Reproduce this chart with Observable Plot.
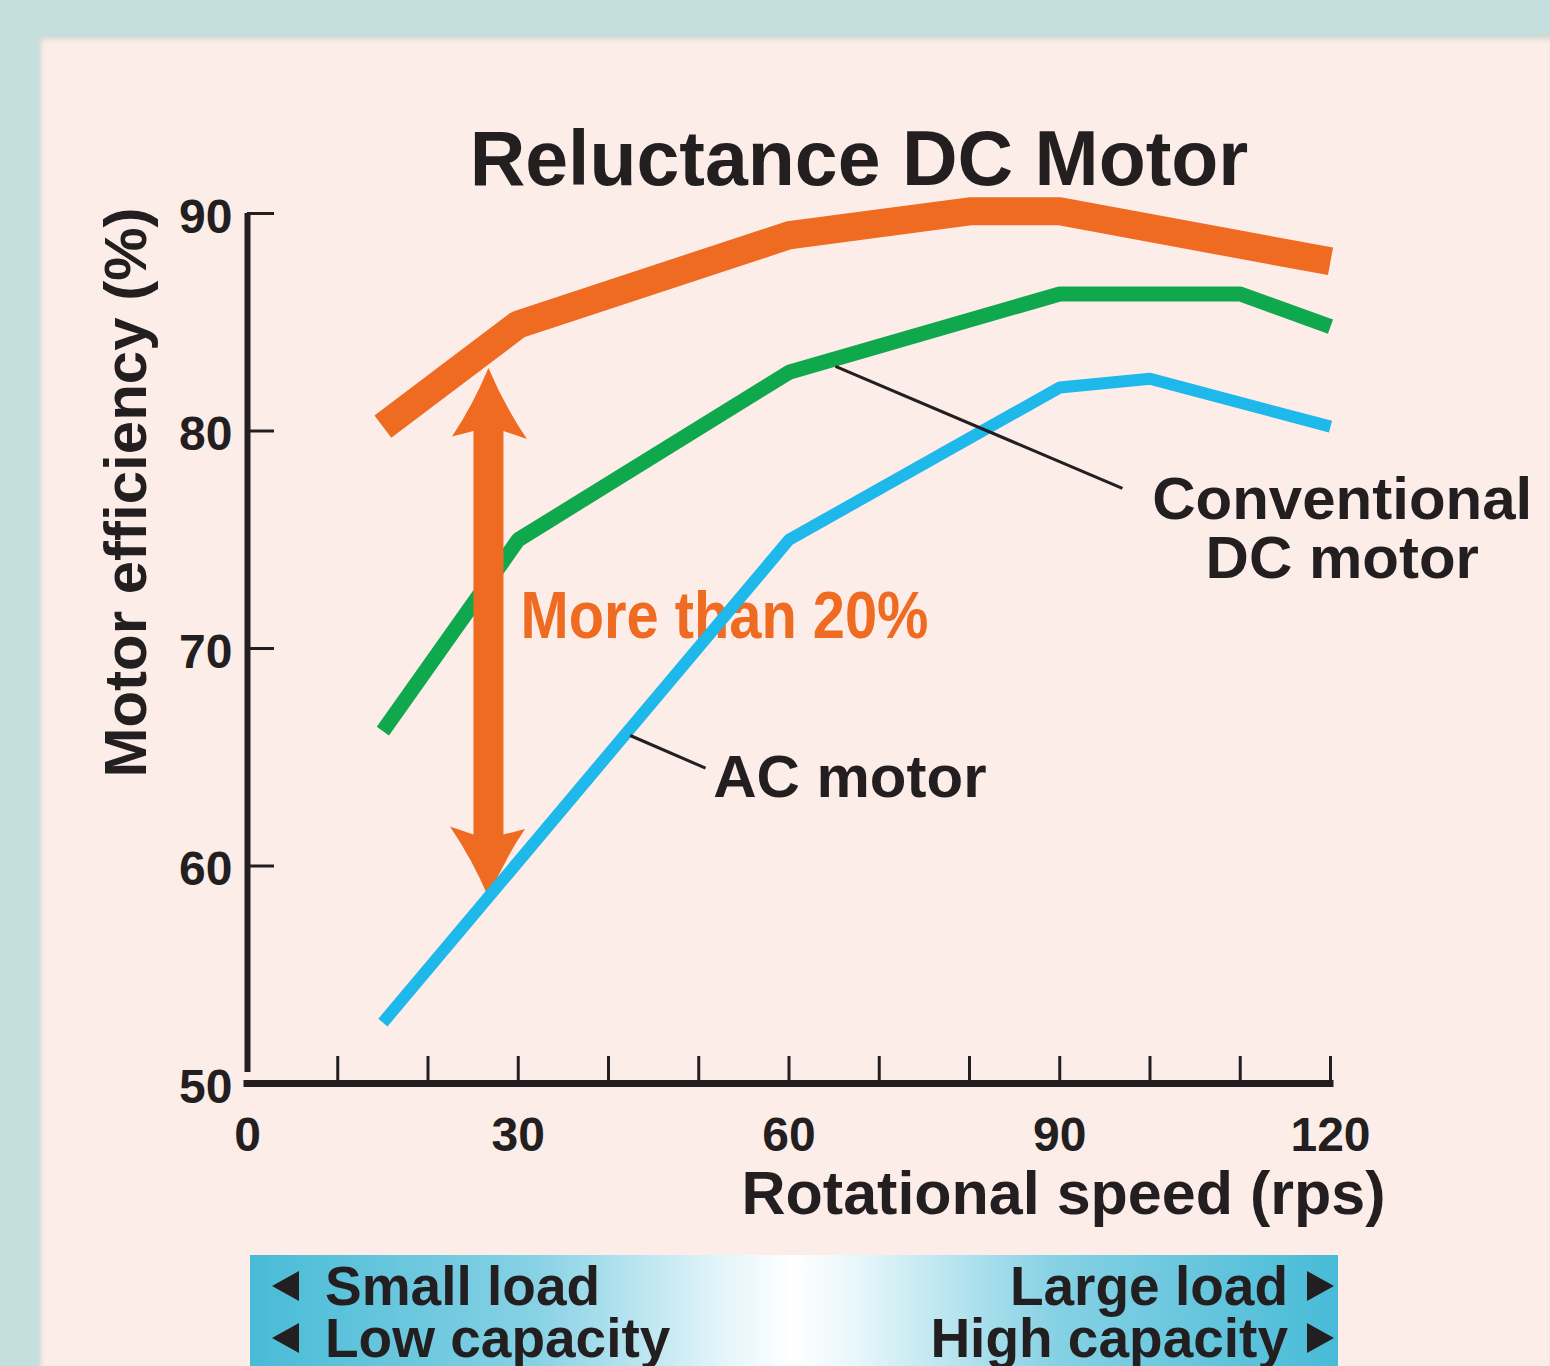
<!DOCTYPE html>
<html>
<head>
<meta charset="utf-8">
<script src="https://cdn.jsdelivr.net/npm/d3@7"></script>
<script src="https://cdn.jsdelivr.net/npm/@observablehq/plot@0.6"></script>
<style>
  html, body { margin: 0; padding: 0; }
  body {
    width: 1550px; height: 1366px; overflow: hidden; position: relative;
    background: #c4dfde;
    font-family: "Liberation Sans", Arial, Helvetica, sans-serif;
    color: #231f20;
  }
  #panel {
    position: absolute; left: 38px; top: 35px; right: 0; bottom: 0;
    background: #fcede9;
    box-shadow: inset 3px 4px 5px rgba(150, 190, 185, 0.45);
  }
  #title {
    position: absolute; left: 0; width: 1718px; top: 120px;
    text-align: center; font-size: 77px; line-height: 77px; font-weight: bold;
    white-space: nowrap;
  }
  #chart { position: absolute; left: 0; top: 190px; }
  #band {
    position: absolute; left: 250px; top: 1255px; width: 1088px; height: 130px;
    background: linear-gradient(to right, #48bbd7 0%, #86d1e4 26%, #e6f6fa 44%, #ffffff 50%, #e6f6fa 56%, #86d1e4 74%, #48bbd7 100%);
  }
  .bt { position: absolute; font-size: 55px; line-height: 50px; font-weight: bold; white-space: nowrap; }
  .tri { position: absolute; width: 0; height: 0; border-top: 15px solid transparent; border-bottom: 15px solid transparent; }
  .tl { border-right: 27px solid #231f20; }
  .tr { border-left: 27px solid #231f20; }
</style>
</head>
<body>
<div id="panel"></div>
<div id="title"></div>
<div id="chart"></div>
<div id="band">
  <div class="tri tl" style="left:22px; top:16px;"></div>
  <div class="bt" id="smallLoad" style="left:75px; top:6px;"></div>
  <div class="tri tl" style="left:22px; top:68px;"></div>
  <div class="bt" id="lowCap" style="left:75px; top:58px;"></div>
  <div class="bt" id="largeLoad" style="right:50px; top:6px;"></div>
  <div class="tri tr" style="left:1057px; top:16px;"></div>
  <div class="bt" id="highCap" style="right:50px; top:58px;"></div>
  <div class="tri tr" style="left:1057px; top:68px;"></div>
</div>
<script>
// ---------- data ----------
const speedReluctance = [15, 30, 60, 80, 90, 120];
const effReluctance   = [80.2, 84.9, 89.0, 90.1, 90.1, 87.8];

const speedConventional = [15, 30, 60, 90, 110, 120];
const effConventional   = [66.2, 75.0, 82.7, 86.3, 86.3, 84.8];

const speedAC = [15, 60, 90, 100, 120];
const effAC   = [52.8, 75.0, 82.0, 82.4, 80.2];

const yTickLabels = [50, 60, 70, 80, 90];
const xTickLabels = [0, 30, 60, 90, 120];
const xMinorTicks = [10, 20, 30, 40, 50, 60, 70, 80, 90, 100, 110, 120];

const gapSpeed = 26.7;          // where the "more than 20%" arrow stands
const gapTop = 82.9;            // reluctance side
const gapBottom = 58.55;        // AC side

const titleText = "Reluctance DC Motor";
const xLabel = "Rotational speed (rps)";
const yLabel = "Motor efficiency (%)";
const gapLabel = "More than 20%";
const acLabel = "AC motor";
const convLabel = "Conventional\nDC motor";
const bandLeft = ["Small load", "Low capacity"];
const bandRight = ["Large load", "High capacity"];

// ---------- styles ----------
const ORANGE = "#ef6b22";
const GREEN = "#10a84c";
const BLUE = "#1fb8eb";
const INK = "#231f20";
const FONT = "'Liberation Sans', Arial, Helvetica, sans-serif";

document.getElementById("title").textContent = titleText;
document.getElementById("smallLoad").textContent = bandLeft[0];
document.getElementById("lowCap").textContent = bandLeft[1];
document.getElementById("largeLoad").textContent = bandRight[0];
document.getElementById("highCap").textContent = bandRight[1];

const toRows = (xs, ys) => xs.map((x, i) => ({speed: x, eff: ys[i]}));
const reluctance = toRows(speedReluctance, effReluctance);
const conventional = toRows(speedConventional, effConventional);
const ac = toRows(speedAC, effAC);

// swept-back arrowhead, tip at origin, body extending downward
const arrowHead = {
  draw(ctx, size) {
    const s = Math.sqrt(size / Math.PI) / 40;
    ctx.moveTo(0, 0);
    ctx.quadraticCurveTo(16 * s, 38 * s, 38.5 * s, 71 * s);
    ctx.lineTo(15 * s, 63 * s);
    ctx.lineTo(-15 * s, 63 * s);
    ctx.lineTo(-36.5 * s, 68.5 * s);
    ctx.quadraticCurveTo(-16 * s, 38 * s, 0, 0);
    ctx.closePath();
  }
};

const W = 1550, H = 1050;
const mL = 247, mR = 220, mT = 23, mB = 157;
const frameW = W - mL - mR, frameH = H - mT - mB;

const chart = Plot.plot({
  width: W, height: H,
  marginLeft: mL, marginRight: mR, marginTop: mT, marginBottom: mB,
  x: {domain: [0, 120]},
  y: {domain: [50, 90]},
  style: {background: "transparent", overflow: "visible", fontFamily: FONT, color: INK},
  marks: [
    // tick labels
    Plot.axisY({ticks: yTickLabels, tickSize: 0, tickPadding: 15, fontSize: 48, fontWeight: "bold", fill: INK, dy: 4, label: null}),
    Plot.axisX({ticks: xTickLabels, tickSize: 0, tickPadding: 33, fontSize: 48, fontWeight: "bold", fill: INK, label: null}),
    // inward tick marks
    Plot.tickY(yTickLabels.filter(d => d > 50), {y: d => d, stroke: INK, strokeWidth: 3, insetRight: frameW - 27}),
    Plot.tickX(xMinorTicks, {x: d => d, stroke: INK, strokeWidth: 3, insetTop: frameH - 27}),
    // axis lines
    Plot.ruleX([0], {y1: 50, y2: 90, insetTop: -11, stroke: INK, strokeWidth: 6}),
    Plot.ruleY([50], {x1: 0, x2: 120, stroke: INK, strokeWidth: 7, strokeLinecap: "square"}),
    // axis titles
    Plot.text([xLabel], {text: d => d, frameAnchor: "bottom-right", dx: 55, dy: 130, textAnchor: "end", lineAnchor: "bottom", fontSize: 61, fontWeight: "bold", fill: INK}),
    Plot.text([yLabel], {text: d => d, frameAnchor: "left", rotate: -90, dx: -121, dy: -156, textAnchor: "middle", lineAnchor: "middle", fontSize: 60, fontWeight: "bold", fill: INK}),
    // gap label (under the lines)
    Plot.text([gapLabel], {text: d => d, x: 30.25, y: 70.5, textAnchor: "start", lineAnchor: "bottom", fontSize: 66, fontWeight: "bold", fill: ORANGE}),
    // series
    Plot.line(conventional, {x: "speed", y: "eff", stroke: GREEN, strokeWidth: 15, strokeLinecap: "butt", strokeLinejoin: "miter"}),
    // double arrow
    Plot.ruleX([gapSpeed], {y1: gapTop, y2: gapBottom, stroke: ORANGE, strokeWidth: 30, insetTop: 50, insetBottom: 50}),
    Plot.dot([{s: gapSpeed, e: gapTop}], {x: "s", y: "e", r: 40, symbol: arrowHead, fill: ORANGE, stroke: "none"}),
    Plot.dot([{s: gapSpeed, e: gapBottom}], {x: "s", y: "e", r: 40, symbol: arrowHead, rotate: 180, fill: ORANGE, stroke: "none"}),
    Plot.line(ac, {x: "speed", y: "eff", stroke: BLUE, strokeWidth: 12, strokeLinecap: "butt", strokeLinejoin: "miter"}),
    Plot.line(reluctance, {x: "speed", y: "eff", stroke: ORANGE, strokeWidth: 28, strokeLinecap: "butt", strokeLinejoin: "miter"}),
    // leaders and series labels
    Plot.link([{x1: 42.4, y1: 66.0, x2: 50.75, y2: 64.5}], {x1: "x1", y1: "y1", x2: "x2", y2: "y2", stroke: INK, strokeWidth: 3}),
    Plot.link([{x1: 65.15, y1: 82.97, x2: 96.95, y2: 77.36}], {x1: "x1", y1: "y1", x2: "x2", y2: "y2", stroke: INK, strokeWidth: 3}),
    Plot.text([acLabel], {text: d => d, x: 51.6, y: 63.15, textAnchor: "start", lineAnchor: "bottom", fontSize: 60, fontWeight: "bold", fill: INK}),
    Plot.text([convLabel], {text: d => d, x: 121.3, y: 73.26, textAnchor: "middle", lineAnchor: "bottom", lineHeight: 0.98, fontSize: 60, fontWeight: "bold", fill: INK})
  ]
});
document.getElementById("chart").appendChild(chart);

// condensed look of the orange annotation
d3.select(chart).selectAll("text")
  .filter(function() { return this.textContent === gapLabel; })
  .attr("textLength", 408)
  .attr("lengthAdjust", "spacingAndGlyphs");
</script>
</body>
</html>
